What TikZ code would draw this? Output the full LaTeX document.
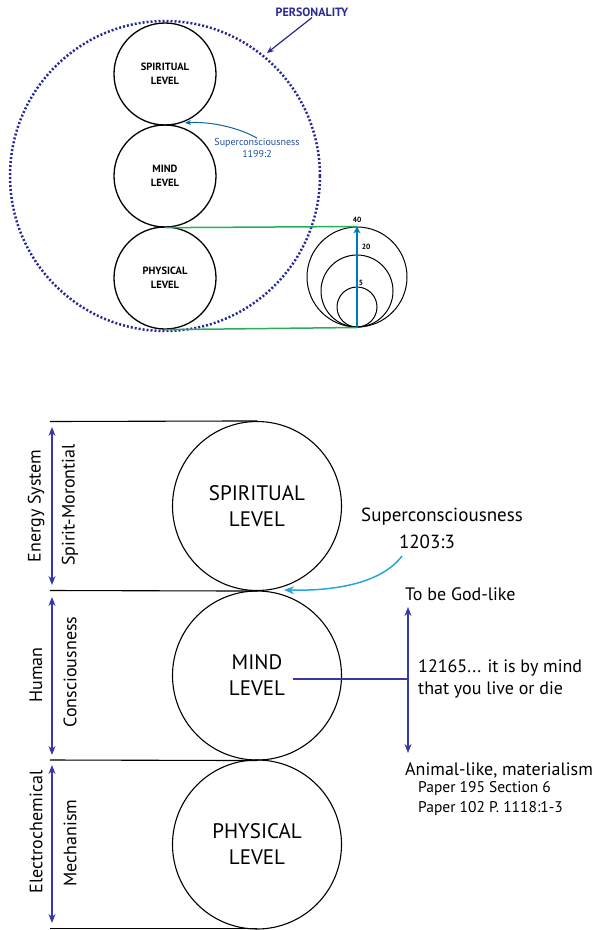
\documentclass[tikz,border=0pt]{standalone}
\usepackage{fontspec}
\setmainfont{PT Sans}
\usetikzlibrary{arrows.meta}
\definecolor{navy}{RGB}{55,55,165}
\definecolor{dotblue}{RGB}{40,40,150}
\definecolor{tealb}{RGB}{20,100,150}
\definecolor{textb}{RGB}{30,80,160}
\definecolor{skyb}{RGB}{40,165,220}
\definecolor{grn}{RGB}{40,175,90}
\definecolor{arrowblue}{RGB}{0,120,190}
\begin{document}
\begin{tikzpicture}[x=1pt,y=-1pt,
  smallc/.style={circle, draw, line width=1.3pt, minimum size=102pt, inner sep=0pt, align=center, font=\bfseries\fontsize{10.5}{14}\selectfont},
  bigc/.style={circle, draw, line width=1.1pt, minimum size=169pt, inner sep=0pt, align=center, font=\fontsize{21}{26}\selectfont},
  nest/.style={circle, draw, line width=1pt, inner sep=0pt},
  navyarrow/.style={navy, line width=1.3pt, {Stealth[length=9pt,width=7pt]}-{Stealth[length=9pt,width=7pt]}},
  vlabel/.style={rotate=90, inner sep=0pt, font=\fontsize{18}{20}\selectfont},
  txt/.style={anchor=west, inner sep=0pt, align=left, font=\fontsize{18}{22}\selectfont},
  smalltxt/.style={anchor=west, inner sep=0pt, align=left, font=\fontsize{15.5}{20}\selectfont},
  levline/.style={line width=1.1pt}
]
\useasboundingbox (0,0) rectangle (599,930);

% ---------- top diagram ----------
\node[circle, draw=dotblue, line width=2.5pt, dash pattern=on 2pt off 2pt, minimum size=310pt, inner sep=0pt] (pers) at (165,176) {};
\node[smallc] (ts) at (165,74) {SPIRITUAL\\LEVEL};
\node[smallc] (tm) at (165,176) {MIND\\LEVEL};
\node[smallc] (tp) at (165,278) {PHYSICAL\\LEVEL};

\node[nest, minimum size=100pt] (n40) at (357,277) {};
\node[nest, minimum size=72pt] (n20) at (357,291) {};
\node[nest, minimum size=40pt] (n5) at (357,307) {};

\draw[grn, line width=1.5pt] (tm.south) -- (n40.north);
\draw[grn, line width=1.5pt] (tp.south) -- (n40.south);
\draw[arrowblue, line width=2.5pt, -{Stealth[length=7pt,width=7pt]}] (n40.south) -- (n40.north);

\node[font=\bfseries\fontsize{7.5}{8}\selectfont] (l40) at (357,220) {40};
\node[font=\bfseries\fontsize{7.5}{8}\selectfont] (l20) at (366,247) {20};
\node[font=\bfseries\fontsize{7.5}{8}\selectfont] (l5) at (361,283) {5};

\node[font=\bfseries\fontsize{12}{14}\selectfont, text=dotblue, inner sep=1pt] (plab) at (312,12) {PERSONALITY};
\coordinate (pend) at (267,53);
\draw[dotblue, line width=1.2pt, -{Stealth[length=7pt,width=6pt]}] (plab.south) -- (pend);

\node[font=\fontsize{10}{12}\selectfont, text=textb, align=center, inner sep=0pt] (tsc) at (257,148) {Superconsciousness\\1199:2};
\coordinate (tarr) at (185,123);
\draw[tealb, line width=1pt, -{Stealth[length=6pt,width=5pt]}] (tsc.north) .. controls (240,128) and (210,121) .. (tarr);

% ---------- bottom diagram ----------
\node[bigc] (bs) at (257,506) {SPIRITUAL\\LEVEL};
\node[bigc] (bm) at (257,675.5) {MIND\\LEVEL};
\node[bigc] (bp) at (257,844.5) {PHYSICAL\\LEVEL};

\coordinate (c0) at (50,421.5);
\coordinate (c1) at (50,590.5);
\coordinate (c2) at (50,760);
\coordinate (c3) at (50,928.8);
\draw[levline] (c0) -- (bs.north);
\draw[levline] (c1) -- (bs.south);
\draw[levline] (c2) -- (bm.south);
\draw[levline] (c3) -- (257,928.8);

\coordinate (a1t) at (52,427); \coordinate (a1b) at (52,585);
\coordinate (a2t) at (52,597); \coordinate (a2b) at (52,755);
\coordinate (a3t) at (52,765); \coordinate (a3b) at (52,923);
\draw[navyarrow] (a1t) -- (a1b);
\draw[navyarrow] (a2t) -- (a2b);
\draw[navyarrow] (a3t) -- (a3b);

\node[vlabel] (v1) at (36,506) {Energy System};
\node[vlabel] (v2) at (70,505) {Spirit-Morontial};
\node[vlabel] (v3) at (36,675) {Human};
\node[vlabel] (v4) at (70,672) {Consciousness};
\node[vlabel] (v5) at (36,832) {Electrochemical};
\node[vlabel] (v6) at (70,843) {Mechanism};

\node[font=\fontsize{19}{22}\selectfont, inner sep=0pt] (bsc) at (442,517) {Superconsciousness};
\node[font=\fontsize{19}{22}\selectfont, inner sep=0pt] (bsn) at (427,542) {1203:3};
\coordinate (sa) at (402,556);
\coordinate (se) at (284,590);
\draw[skyb, line width=1.5pt, -{Stealth[length=10pt,width=8pt]}] (sa) .. controls (380,585) and (330,591) .. (se);

\coordinate (ml) at (293,679);
\coordinate (mj) at (408,679);
\coordinate (ut) at (408,607);
\coordinate (ub) at (408,753);
\draw[navy, line width=1.2pt] (ml) -- (mj);
\draw[navyarrow] (ut) -- (ub);

\node[txt] (god) at (405,594) {To be God-like};
\node[txt] (quote) at (418,679) {12165... it is by mind\\that you live or die};
\node[txt] (animal) at (405,770) {Animal-like, materialism};
\node[smalltxt] (papers) at (418,799) {Paper 195 Section 6\\Paper 102 P. 1118:1-3};
\end{tikzpicture}
\end{document}
